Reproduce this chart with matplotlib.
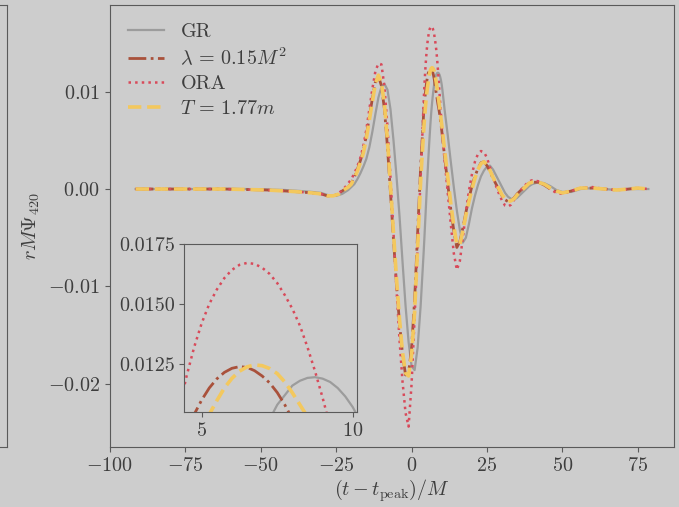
import matplotlib
matplotlib.use("Agg")
import matplotlib.pyplot as plt

# time samples (t - t_peak)/M, denser around the merger peak shown in the inset
t = [-91.5, -85, -78, -70, -62, -55, -48, -42, -37, -33,
     -30, -29, -28, -27, -26, -25, -24, -23, -22, -21, -20, -19, -18, -17,
     -16, -15, -14, -13, -12, -11, -10, -9, -8, -7, -6, -5, -4, -3, -2, -1,
     0, 1, 2, 3,
     4, 4.25, 4.5, 4.75, 5, 5.25, 5.5, 5.75, 6, 6.25, 6.5, 6.75, 7, 7.25,
     7.5, 7.75, 8, 8.25, 8.5, 8.75, 9, 9.25, 9.5, 9.75, 10, 10.25, 10.5,
     11, 12, 13, 14, 15, 16, 17, 18, 19, 20, 21, 22, 23, 24, 25, 26, 27,
     28, 29, 30, 31, 32, 33, 34, 35, 36, 37, 38, 39, 40,
     42, 44, 46, 48, 50, 53, 56, 60, 64, 68, 72, 75, 78.5]

psi_gr = [0.0, 0.0, 0.0, 0.0, 0.0, 0.0, -0.00005, -0.0001, -0.0002, -0.0003,
          -0.0004, -0.0005, -0.0006, -0.0007, -0.0007, -0.0007, -0.0006, -0.0005,
          -0.0003, -0.0001, 0.0002, 0.0005, 0.0010, 0.0016,
          0.0023, 0.0031, 0.0043, 0.0059, 0.0077, 0.0094, 0.0105, 0.0108, 0.0102,
          0.0082, 0.0050, 0.0013, -0.0028, -0.0075, -0.0120, -0.0157,
          -0.0182, -0.0186, -0.0163, -0.0120,
          -0.0065, -0.0050, -0.0034, -0.0018, -0.0002, 0.0013, 0.0028, 0.0042,
          0.0055, 0.0067, 0.0078, 0.0087, 0.0095, 0.0102, 0.0108, 0.0112, 0.0116,
          0.0118, 0.01192, 0.01195, 0.01189, 0.01175, 0.0115, 0.01115, 0.0107,
          0.0101, 0.0094,
          0.0080, 0.0055, 0.0028, 0.0002, -0.0022, -0.0042, -0.0055, -0.0050,
          -0.0036, -0.0020, -0.0007, 0.0004, 0.0013, 0.0019, 0.0023, 0.0024,
          0.0020, 0.0014, 0.0008, 0.0002, -0.0004, -0.0008, -0.0010, -0.0011,
          -0.0009, -0.0006, -0.0003, 0.0000, 0.0003, 0.0005,
          0.0007, 0.0006, 0.0003, -0.0001, -0.0003, -0.0003, 0.0000, 0.0001,
          0.0000, -0.0001, 0.0000, 0.0000, 0.0000]

psi_lam = [0.0, 0.0, 0.0, 0.0, 0.0, -0.00005, -0.0001, -0.0002, -0.0003, -0.0004,
           -0.0005, -0.0006, -0.0007, -0.0007, -0.0007, -0.0006, -0.0004, -0.0002,
           0.0000, 0.0002, 0.0006, 0.0012, 0.0020, 0.0029,
           0.0039, 0.0055, 0.0074, 0.0093, 0.0110, 0.0116, 0.0106, 0.0082, 0.0043,
           -0.0004, -0.0052, -0.0098, -0.0138, -0.0170, -0.0191, -0.0189,
           -0.0163, -0.0114, -0.0045, 0.0022,
           0.0078, 0.0088, 0.0096, 0.0104, 0.0110, 0.0115, 0.01188, 0.01215,
           0.01232, 0.01239, 0.01236, 0.01222, 0.0120, 0.01171, 0.01131, 0.0108,
           0.0102, 0.0097, 0.0092, 0.0087, 0.0083, 0.0078, 0.0072, 0.0066, 0.0060,
           0.0053, 0.0046,
           0.0032, 0.0005, -0.0021, -0.0043, -0.0060, -0.0054, -0.0040, -0.0024,
           -0.0010, 0.0003, 0.0013, 0.0021, 0.0027, 0.0028, 0.0024, 0.0018,
           0.0011, 0.0005, -0.0001, -0.0007, -0.0011, -0.0013, -0.0012, -0.0009,
           -0.0005, -0.0002, 0.0001, 0.0004, 0.0006, 0.0007,
           0.0007, 0.0004, 0.0000, -0.0003, -0.0004, -0.0002, 0.0001, 0.0001,
           0.0000, -0.0001, 0.0000, 0.0001, 0.0000]

psi_ora = [0.0, 0.0, 0.0, 0.0, 0.0, -0.00005, -0.0001, -0.0002, -0.0003, -0.0004,
           -0.0005, -0.0006, -0.0007, -0.0007, -0.0007, -0.0006, -0.0004, -0.0001,
           0.0002, 0.0006, 0.0010, 0.0016, 0.0023, 0.0032,
           0.0044, 0.0061, 0.0082, 0.0103, 0.0121, 0.0129, 0.0128, 0.0105, 0.0064,
           0.0012, -0.0045, -0.0103, -0.0155, -0.0198, -0.0230, -0.0244,
           -0.0200, -0.0132, -0.0060, 0.0012,
           0.0089, 0.0106, 0.0120, 0.0132, 0.0142, 0.0150, 0.0156, 0.01608,
           0.01642, 0.01663, 0.01671, 0.01667, 0.01651, 0.01625, 0.01587, 0.01537,
           0.0148, 0.0141, 0.0132, 0.0122, 0.0111, 0.0099, 0.0087, 0.0076, 0.0065,
           0.0055, 0.0045,
           0.0028, -0.0004, -0.0036, -0.0066, -0.0083, -0.0074, -0.0050, -0.0024,
           -0.0002, 0.0015, 0.0028, 0.0036, 0.0039, 0.0038, 0.0032, 0.0022,
           0.0012, 0.0003, -0.0005, -0.0012, -0.0017, -0.0018, -0.0016, -0.0011,
           -0.0006, -0.0002, 0.0002, 0.0005, 0.0008, 0.0009,
           0.0008, 0.0005, 0.0000, -0.0004, -0.0005, -0.0002, 0.0001, 0.0002,
           0.0000, -0.0001, 0.0000, 0.0001, 0.0000]

psi_T = [0.0, 0.0, 0.0, 0.0, 0.0, -0.00005, -0.0001, -0.0002, -0.0003, -0.0004,
         -0.0005, -0.0006, -0.0007, -0.0007, -0.0007, -0.0006, -0.0005, -0.0002,
         0.0000, 0.0002, 0.0005, 0.0011, 0.0018, 0.0027,
         0.0037, 0.0052, 0.0071, 0.0090, 0.0108, 0.0117, 0.0109, 0.0087, 0.0050,
         0.0004, -0.0045, -0.0092, -0.0134, -0.0168, -0.0189, -0.0192,
         -0.0170, -0.0126, -0.0060, 0.0008,
         0.0060, 0.0071, 0.0081, 0.0090, 0.0098, 0.0104, 0.01097, 0.0115,
         0.0119, 0.0122, 0.01238, 0.01246, 0.01243, 0.01231, 0.0121, 0.01175,
         0.0113, 0.0108, 0.0103, 0.0097, 0.0091, 0.0085, 0.0079, 0.0072, 0.0066,
         0.0059, 0.0052,
         0.0039, 0.0012, -0.0015, -0.0038, -0.0057, -0.0057, -0.0043, -0.0027,
         -0.0013, 0.0000, 0.0011, 0.0020, 0.0026, 0.0028, 0.0025, 0.0019,
         0.0012, 0.0006, 0.0000, -0.0006, -0.0010, -0.0013, -0.0012, -0.0010,
         -0.0006, -0.0003, 0.0000, 0.0003, 0.0006, 0.0007,
         0.0007, 0.0005, 0.0001, -0.0002, -0.0004, -0.0002, 0.0001, 0.0001,
         0.0000, -0.0001, 0.0000, 0.0001, 0.0000]

x_ticks = [-100, -75, -50, -25, 0, 25, 50, 75]
y_ticks = [-0.02, -0.01, 0.00, 0.01]
inset_x_ticks = [5, 10]
inset_y_ticks = [0.0125, 0.0150, 0.0175]

BG = "#cdcdcd"
INK = "#3e3e3e"
SPINE = "#5a5a5a"

plt.rcParams["font.family"] = "serif"
plt.rcParams["font.serif"] = ["cmr10"]
plt.rcParams["mathtext.fontset"] = "cm"
plt.rcParams["axes.formatter.use_mathtext"] = True
plt.rcParams["font.size"] = 14.5
plt.rcParams["text.color"] = INK
plt.rcParams["axes.labelcolor"] = INK
plt.rcParams["xtick.color"] = SPINE
plt.rcParams["ytick.color"] = SPINE
plt.rcParams["xtick.labelcolor"] = INK
plt.rcParams["ytick.labelcolor"] = INK
plt.rcParams["axes.edgecolor"] = SPINE

fig = plt.figure(figsize=(6.79, 5.07), dpi=100, facecolor=BG)

# neighbouring panel, only its right edge is in view
ax_prev = fig.add_axes([-0.5, 0.1183, 0.5103, 0.8718], facecolor=BG)
ax_prev.set_xticks([])
ax_prev.set_yticks([])

ax = fig.add_axes([0.1620, 0.1183, 0.8306, 0.8718], facecolor=BG)

styles = [
    (psi_gr, dict(color="#9c9c9c", lw=1.6, ls="-", label="GR")),
    (psi_lam, dict(color="#a9513b", lw=2.0, ls="-.", label=r"$\lambda\,=\,0.15M^2$")),
    (psi_ora, dict(color="#d84a5a", lw=1.8, ls=":", label="ORA")),
    (psi_T, dict(color="#f3c85e", lw=2.6, ls="--", label=r"$T\,=\,1.77m$")),
]
for psi, kw in styles:
    ax.plot(t, psi, **kw)

ax.set_xlim(-100, 87)
ax.set_ylim(-0.0265, 0.0189)
ax.set_xticks(x_ticks)
ax.set_yticks(y_ticks)
ax.set_xlabel(r"$(t - t_{\rm peak})/M$", labelpad=2)
ax.set_ylabel(r"$rM\Psi_{420}$")
ax.legend(loc="upper left", frameon=False, handlelength=1.8, labelspacing=0.3)

# zoom on the second peak
axin = fig.add_axes([0.2717, 0.1874, 0.2541, 0.3314], facecolor=BG)
for psi, kw in styles:
    axin.plot(t, psi, **kw)
axin.set_xlim(4.43, 10.14)
axin.set_ylim(0.0105, 0.0175)
axin.set_xticks(inset_x_ticks)
axin.set_yticks(inset_y_ticks)
axin.set_yticklabels(["0.0125", "0.0150", "0.0175"])

fig.savefig("out.png", dpi=100, facecolor=BG)
